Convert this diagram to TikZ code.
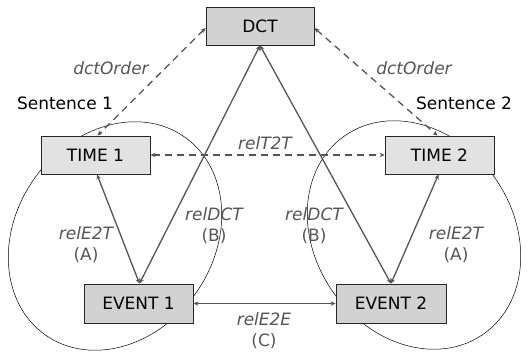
\documentclass[tikz,border=0pt]{standalone}
\usepackage{fontspec}
\setmainfont{DejaVu Sans}
\usepackage{xcolor}
\usetikzlibrary{arrows.meta,positioning}

\definecolor{boxdark}{HTML}{D2D2D2}
\definecolor{boxlight}{HTML}{E2E2E2}
\definecolor{relgray}{HTML}{555555}

\tikzset{
  every node/.style={font=\fontsize{17}{21}\selectfont},
  box/.style={draw=black!85, line width=0.8pt, fill=boxdark, minimum width=109pt, minimum height=38pt, inner sep=0pt},
  timebox/.style={box, fill=boxlight},
  rel/.style={draw=relgray, line width=1.3pt, {Stealth[length=5pt,width=4.5pt]}-{Stealth[length=5pt,width=4.5pt]}},
  reldash/.style={rel, dash pattern=on 7pt off 5pt},
  lbl/.style={text=relgray, align=center},
  sentence/.style={draw=black, line width=0.5pt}
}

\begin{document}
\begin{tikzpicture}[x=1pt, y=-1pt]
\useasboundingbox (0,0) rectangle (527,353);

% sentence regions
\draw [sentence, rotate around={-35:(115,236)}] (115,236) ellipse [x radius=99, y radius=121];
\draw [sentence, rotate around={35:(414,235)}] (414,235) ellipse [x radius=99, y radius=121];
\node at (65,103) {Sentence 1};
\node at (464,103) {Sentence 2};

% boxes
\node (dct) at (260,26) [box, minimum width=108pt] {DCT};
\node (time1) at (95.5,155) [timebox] {TIME 1};
\node (time2) at (439.5,155) [timebox] {TIME 2};
\node (event1) at (138.5,303.5) [box, minimum height=39pt] {EVENT 1};
\node (event2) at (391,303.5) [box, minimum width=110pt, minimum height=39pt] {EVENT 2};

% relations
\draw [reldash] ([yshift=-2pt]dct.west) -- ([xshift=2pt]time1.north);
\draw [reldash] ([yshift=-2pt]dct.east) -- ([xshift=-2pt]time2.north);
\draw [reldash] (time1.east) -- (time2.west);
\draw [rel] (dct.south) -- ([xshift=1pt]event1.north);
\draw [rel] (dct.south) -- (event2.north);
\draw [rel] ([xshift=1.5pt]time1.south) -- ([xshift=1pt]event1.north);
\draw [rel] ([xshift=-1pt]time2.south) -- (event2.north);
\draw [rel, line width=0.9pt] (event1.east) -- (event2.west);

% labels
\node at (111,68) [lbl] {\itshape dctOrder};
\node at (414,68) [lbl] {\itshape dctOrder};
\node at (265,143) [lbl] {\itshape relT2T};
\node at (214,226) [lbl] {\itshape relDCT\\(B)};
\node at (314,226) [lbl] {\itshape relDCT\\(B)};
\node at (86,245) [lbl] {\itshape relE2T\\(A)};
\node at (456,245) [lbl] {\itshape relE2T\\(A)};
\node at (264,331) [lbl] {\itshape relE2E\\(C)};
\end{tikzpicture}
\end{document}
